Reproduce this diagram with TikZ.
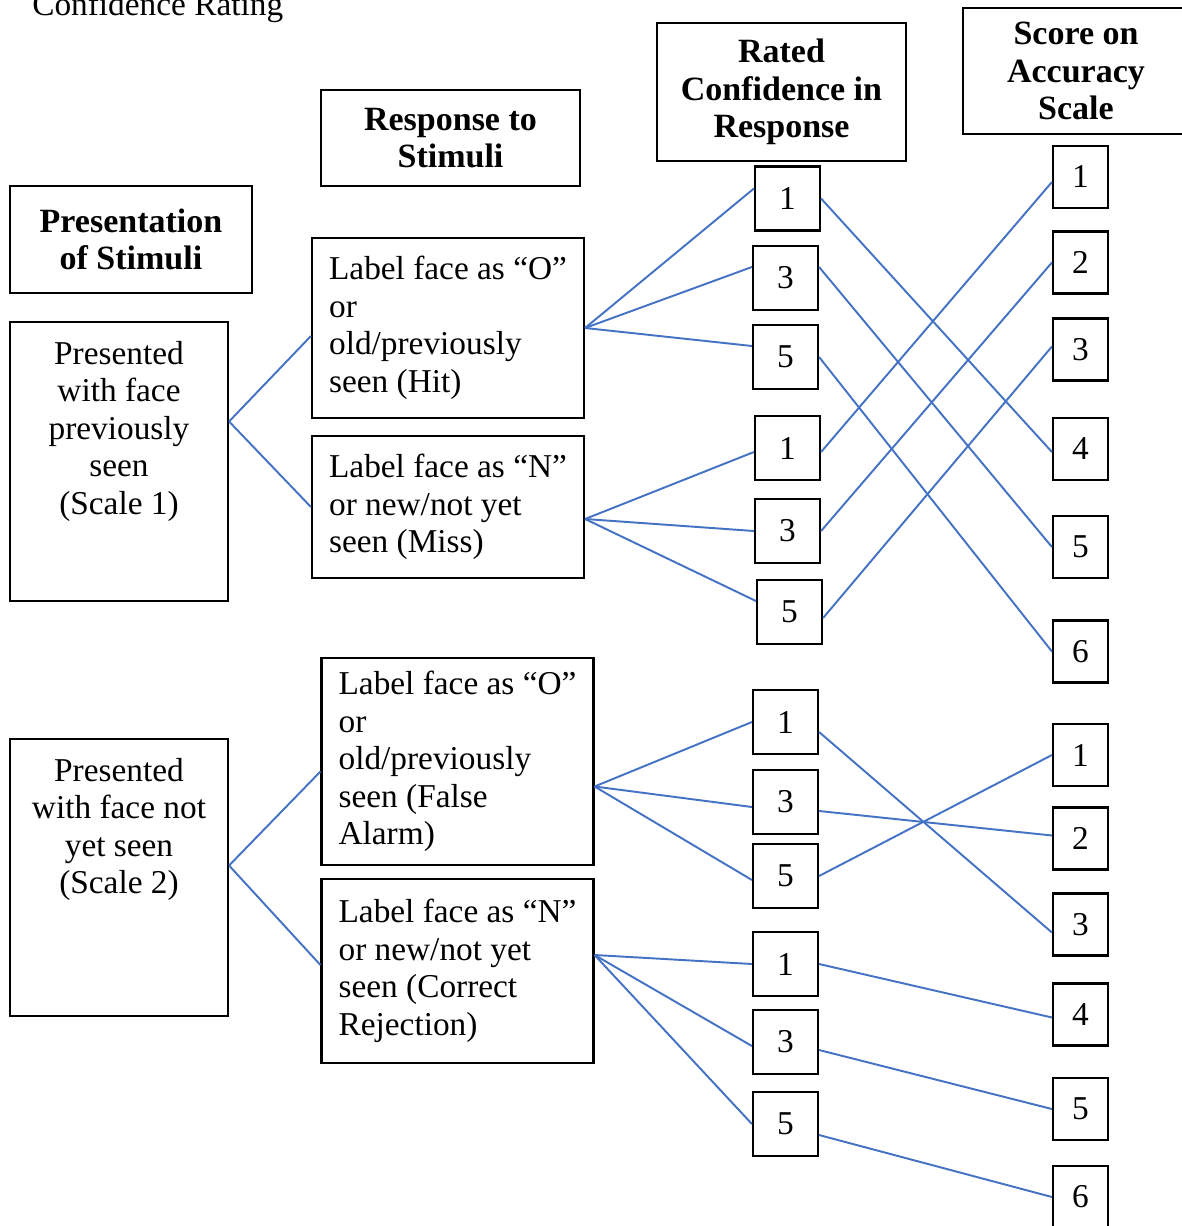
\documentclass[tikz,border=0pt]{standalone}
\usepackage{fontspec}
\setmainfont{Liberation Serif}
\usetikzlibrary{calc}
\definecolor{linkblue}{HTML}{4472C4}

\begin{document}
\begin{tikzpicture}[x=0.75pt,y=-0.75pt,
    txt/.style={align=center,inner sep=0pt,font=\fontsize{25}{28.1}\selectfont},
    box/.style={txt,draw,line width=1.6pt},
    head/.style={box,font=\bfseries\fontsize{25.5}{28.1}\selectfont},
    resp/.style={box,align=left,minimum width=204pt},
    conf/.style={box,minimum width=48.75pt,minimum height=48pt},
    score/.style={box,minimum width=41.25pt,minimum height=46.5pt},
    link/.style={linkblue,line width=1.45pt}]
\useasboundingbox (0,0) rectangle (1181,1226);

\node[txt,anchor=base west] (title) at (32,16) {Confidence Rating};

\node[head,minimum width=181.5pt,minimum height=80.25pt] (hdrpres) at (131,239.5) {Presentation\\of Stimuli};
\node[head,minimum width=194.25pt,minimum height=72pt] (hdrresp) at (450.5,138) {Response to\\Stimuli};
\node[head,minimum width=186.75pt,minimum height=103.5pt] (hdrconf) at (781.5,92) {Rated\\Confidence in\\Response};
\node[head,minimum width=169.5pt,minimum height=94.5pt] (hdrscore) at (1076,71) {Score on\\Accuracy\\Scale};

\node[box,minimum width=163.5pt,minimum height=209.25pt] (pres1) at (119,461.5) {};
\node[txt,anchor=north] (pres1txt) at ($(pres1.north)+(0,20)$) {Presented\\with face\\previously\\seen\\(Scale 1)};
\node[box,minimum width=163.5pt,minimum height=207.75pt] (pres2) at (119,877.5) {};
\node[txt,anchor=north] (pres2txt) at ($(pres2.north)+(0,20)$) {Presented\\with face not\\yet seen\\(Scale 2)};

\node[resp,minimum height=135pt] (hit) at (448,328) {Label face as “O”\\or\\old/previously\\seen (Hit)};
\node[resp,minimum height=106.5pt] (miss) at (448,507) {Label face as “N”\\or new/not yet\\seen (Miss)};
\node[resp,minimum height=155.25pt] (fa) at (457.5,761.5) {Label face as “O”\\or\\old/previously\\seen (False\\Alarm)};
\node[resp,minimum height=138pt] (cr) at (457.5,971) {Label face as “N”\\or new/not yet\\seen (Correct\\Rejection)};

\node[conf] (a1) at (787.5,198.5) {1};
\node[conf] (a3) at (785.5,278) {3};
\node[conf] (a5) at (785.5,357) {5};
\node[conf] (b1) at (787.5,448) {1};
\node[conf] (b3) at (787.5,531) {3};
\node[conf] (b5) at (789.5,612) {5};
\node[conf] (c1) at (785.5,722) {1};
\node[conf] (c3) at (785.5,802) {3};
\node[conf] (c5) at (785.5,876) {5};
\node[conf] (d1) at (785.5,964) {1};
\node[conf] (d3) at (785.5,1042) {3};
\node[conf] (d5) at (785.5,1124) {5};

\node[score] (s1) at (1080.5,177) {1};
\node[score] (s2) at (1080.5,262.5) {2};
\node[score] (s3) at (1080.5,349.5) {3};
\node[score] (s4) at (1080.5,449) {4};
\node[score] (s5) at (1080.5,547) {5};
\node[score] (s6) at (1080.5,651.5) {6};
\node[score] (t1) at (1080.5,755) {1};
\node[score] (t2) at (1080.5,838.5) {2};
\node[score] (t3) at (1080.5,924.5) {3};
\node[score] (t4) at (1080.5,1014.5) {4};
\node[score] (t5) at (1080.5,1109) {5};
\node[score] (t6) at (1080.5,1197) {6};

% fan points
\coordinate (p1) at ($(pres1.east)+(0,-40)$);
\coordinate (p2) at ($(pres2.east)+(0,-12)$);
\coordinate (mo) at ($(miss.east)+(0,12)$);
\coordinate (fo) at ($(fa.east)+(0,25)$);
\coordinate (co) at ($(cr.east)+(0,-16)$);

\draw[link] (p1) -- ($(hit.west)+(0,8)$);
\draw[link] (p1) -- (miss.west);
\draw[link] (p2) -- ($(fa.west)+(0,10)$);
\draw[link] (p2) -- ($(cr.west)+(0,-6)$);

\draw[link] (hit.east) -- ($(a1.west)+(0,-10)$);
\draw[link] (hit.east) -- ($(a3.west)+(0,-11)$);
\draw[link] (hit.east) -- ($(a5.west)+(0,-11)$);
\draw[link] (mo) -- ($(b1.west)+(0,4)$);
\draw[link] (mo) -- (b3.west);
\draw[link] (mo) -- ($(b5.west)+(0,-11)$);
\draw[link] (fo) -- (c1.west);
\draw[link] (fo) -- ($(c3.west)+(0,5)$);
\draw[link] (fo) -- ($(c5.west)+(0,4)$);
\draw[link] (co) -- (d1.west);
\draw[link] (co) -- ($(d3.west)+(0,4)$);
\draw[link] (co) -- (d5.west);

\draw[link] (a1.east) -- ($(s4.west)+(0,3)$);
\draw[link] ($(a3.east)+(0,-11)$) -- (s5.west);
\draw[link] (a5.east) -- (s6.west);
\draw[link] ($(b1.east)+(0,4)$) -- ($(s1.west)+(0,5)$);
\draw[link] (b3.east) -- (s2.west);
\draw[link] ($(b5.east)+(0,6)$) -- ($(s3.west)+(0,-3)$);
\draw[link] ($(c1.east)+(0,10)$) -- ($(t3.west)+(0,8)$);
\draw[link] ($(c3.east)+(0,9)$) -- ($(t2.west)+(0,-3)$);
\draw[link] (c5.east) -- (t1.west);
\draw[link] (d1.east) -- ($(t4.west)+(0,3)$);
\draw[link] ($(d3.east)+(0,8)$) -- (t5.west);
\draw[link] ($(d5.east)+(0,11)$) -- (t6.west);
\end{tikzpicture}
\end{document}
